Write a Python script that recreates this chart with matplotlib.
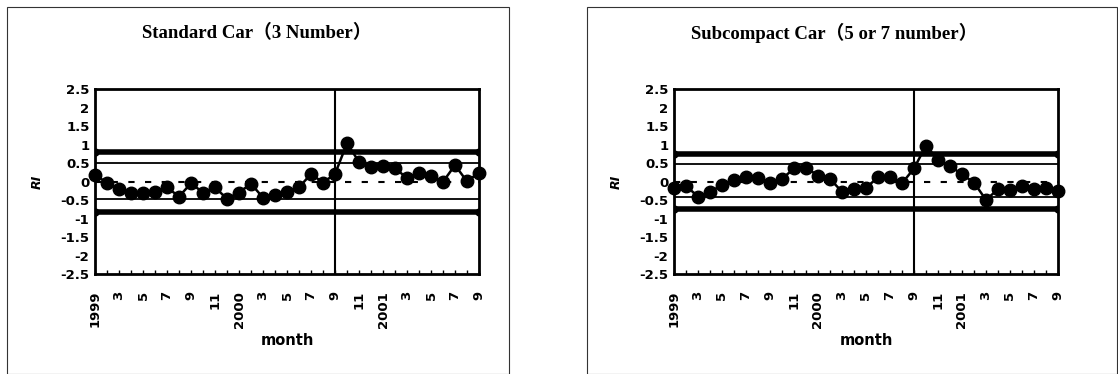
import matplotlib.pyplot as plt
from matplotlib.patches import Rectangle

# monthly RI, 1999/1 .. 2001/9
months = list(range(33))
tick_pos = list(range(0, 33, 2))
tick_labels = ['1999', '3', '5', '7', '9', '11',
               '2000', '3', '5', '7', '9', '11',
               '2001', '3', '5', '7', '9']

standard_ri = [0.18, -0.02, -0.2, -0.29, -0.29, -0.27, -0.15, -0.4, -0.04, -0.29, -0.15,
               -0.46, -0.29, -0.05, -0.43, -0.35, -0.27, -0.15, 0.21, -0.02, 0.21,
               1.04, 0.54, 0.41, 0.44, 0.38, 0.09, 0.25, 0.16, 0.0, 0.45, 0.01, 0.25]
subcompact_ri = [-0.16, -0.11, -0.4, -0.27, -0.09, 0.05, 0.12, 0.09, -0.04, 0.08, 0.36,
                 0.38, 0.17, 0.08, -0.27, -0.19, -0.16, 0.12, 0.12, -0.04, 0.36,
                 0.98, 0.59, 0.43, 0.2, -0.02, -0.49, -0.2, -0.22, -0.11, -0.2, -0.16, -0.25]

# control limits: (outer upper, inner upper, inner lower, outer lower)
standard_limits = (0.81, 0.5, -0.47, -0.82)
subcompact_limits = (0.75, 0.47, -0.42, -0.74)

titles = ['Standard Car（3 Number）', 'Subcompact Car（5 or 7 number）']
break_month = 20

fig = plt.figure(figsize=(11.18, 3.74), dpi=100)
W, H = 1118, 374

# panel frames
for x0, x1 in [(7, 509), (587, 1117)]:
    fig.patches.append(Rectangle((x0 / W, 0), (x1 - x0) / W, 1 - 7 / H,
                                 transform=fig.transFigure, fill=False,
                                 edgecolor='#333333', linewidth=0.8))

axes_left = [95, 674]
tick_font = dict(family='DejaVu Sans', weight='bold', size=9.5)

for left, title, ri, lim, cx in zip(axes_left, titles,
                                    [standard_ri, subcompact_ri],
                                    [standard_limits, subcompact_limits],
                                    [257, 834]):
    ax = fig.add_axes([left / W, 1 - 274.3 / H, 384 / W, 185 / H])
    n = len(months)
    ax.plot([0, n - 1], [lim[0]] * 2, color='black', lw=4, marker='o', ms=5, zorder=2)
    ax.plot([0, n - 1], [lim[3]] * 2, color='black', lw=4, marker='o', ms=5, zorder=2)
    ax.axhline(lim[1], color='black', lw=1.3, zorder=1)
    ax.axhline(lim[2], color='black', lw=1.3, zorder=1)
    ax.axhline(0, color='black', lw=1.5, ls=(0, (3, 5)), zorder=1)
    ax.axvline(break_month, color='black', lw=1.5, zorder=3)
    ax.plot(months, ri, color='black', lw=1.8, marker='o', ms=9, zorder=4, clip_on=False)

    ax.set_xlim(0, n - 1)
    ax.set_ylim(-2.5, 2.5)
    ax.set_yticks([2.5, 2, 1.5, 1, 0.5, 0, -0.5, -1, -1.5, -2, -2.5])
    ax.set_yticklabels(['2.5', '2', '1.5', '1', '0.5', '0', '-0.5', '-1', '-1.5', '-2', '-2.5'],
                       fontdict=tick_font)
    ax.set_xticks(months, minor=True)
    ax.set_xticks(tick_pos)
    ax.set_xticklabels(tick_labels, rotation=90, fontdict=tick_font)
    ax.tick_params(axis='x', which='both', direction='in', length=3, width=1, pad=12)
    ax.tick_params(axis='y', length=0, pad=4)
    for s in ax.spines.values():
        s.set_linewidth(2)
    ax.set_xlabel('month', fontdict=dict(family='DejaVu Sans', weight='bold', size=10.5),
                  labelpad=4)
    ax.set_ylabel('RI', fontdict=dict(family='DejaVu Sans', weight='bold',
                                      style='italic', size=9), labelpad=12)
    fig.text(cx / W, 1 - 33 / H, title, ha='center', va='center',
             family=['Liberation Serif', 'Noto Sans CJK JP'], weight='bold', size=13.5)

fig.savefig('out.png', dpi=100)
